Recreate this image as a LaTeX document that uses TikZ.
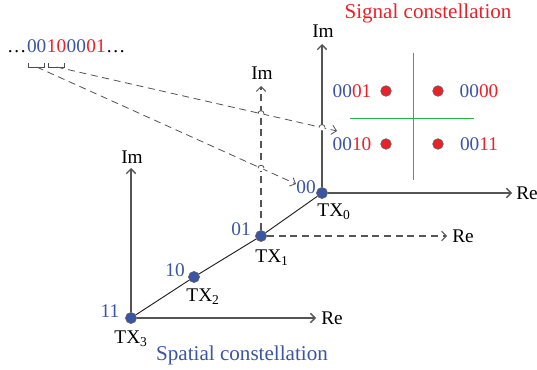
\documentclass[tikz,border=0pt]{standalone}
\usepackage{fontspec}
\setmainfont{Liberation Serif}
\usepackage{xcolor}
\usepackage{tikz}
\usetikzlibrary{arrows.meta,positioning,calc}
\definecolor{ink}{HTML}{231F20}
\definecolor{axis}{HTML}{555555}
\definecolor{bitblue}{HTML}{3A55A4}
\definecolor{bitred}{HTML}{EC2027}
\definecolor{grid}{HTML}{2BB24C}
\newcommand{\bb}[1]{\textcolor{bitblue}{#1}}
\newcommand{\rb}[1]{\textcolor{bitred}{#1}}
\newcommand{\tx}[1]{TX\textsubscript{#1}}

\begin{document}
\begin{tikzpicture}[x=0.03cm,y=-0.03cm,
  font=\fontsize{16.5}{19}\selectfont,
  >={Straight Barb[length=4pt,width=8pt]},
  ax/.style={draw=axis,line width=1.1pt,->},
  dax/.style={ax,dash pattern=on 6pt off 4pt,line width=0.9pt},
  map/.style={draw=axis,dash pattern=on 6pt off 4pt,line width=0.7pt,->},
  ant/.style={circle,fill=bitblue,draw=ink!70,line width=0.5pt,inner sep=0pt,minimum size=9.5pt},
  sym/.style={circle,fill=bitred,draw=ink!70,line width=0.6pt,inner sep=0pt,minimum size=9pt},
  bit/.style={inner sep=0pt,anchor=base west},
  caption/.style={font=\fontsize{18}{20}\selectfont}
]
  \useasboundingbox (0,0) rectangle (537,370);

  % transmit antennas
  \node[ant] (tx0) at (322,193) {};
  \node[ant] (tx1) at (261,236) {};
  \node[ant] (tx2) at (194,277) {};
  \node[ant] (tx3) at (131,318) {};
  \draw[ink,line width=0.8pt] (tx3) -- (tx2) -- (tx1) -- (tx0);

  \node[bitblue] (a0) at (306,187) {00};
  \node[bitblue] (a1) at (241,229) {01};
  \node[bitblue] (a2) at (175,270) {10};
  \node[bitblue] (a3) at (110,311) {11};
  \node (n0) at (334,212) {\tx{0}};
  \node (n1) at (272,258) {\tx{1}};
  \node (n2) at (203,297) {\tx{2}};
  \node (n3) at (131,339) {\tx{3}};

  % axes
  \coordinate (im0) at (322,44);  \coordinate (re0) at (512,193);
  \coordinate (im1) at (261,86);  \coordinate (re1) at (447,236);
  \coordinate (im3) at (131,168); \coordinate (re3) at (316,318);
  \draw[ax] (tx0) -- (im0);
  \draw[ax] (tx0) -- (re0);
  \draw[dax] (tx1) -- (im1);
  \draw[dax] (tx1) -- (re1);
  \draw[ax] (tx3) -- (im3);
  \draw[ax] (tx3) -- (re3);
  \node (lim0) at (323,31)  {Im};
  \node (lre0) at (527,193) {Re};
  \node (lim1) at (262,73)  {Im};
  \node (lre1) at (463,236) {Re};
  \node (lim3) at (132,157) {Im};
  \node (lre3) at (332,318) {Re};

  % signal constellation
  \draw[grid,line width=0.8pt] (413,53) -- (413,180);
  \draw[grid,line width=0.8pt] (350,118) -- (474,118);
  \node[sym] (s01) at (386,91)  {};
  \node[sym] (s00) at (438,91)  {};
  \node[sym] (s10) at (386,144) {};
  \node[sym] (s11) at (438,144) {};
  \node (l01) at (352,91)  {\bb{00}\rb{01}};
  \node (l00) at (479,91)  {\bb{00}\rb{00}};
  \node (l10) at (352,144) {\bb{00}\rb{10}};
  \node (l11) at (479,144) {\bb{00}\rb{11}};

  \node[caption,bitred]  (title) at (428,13)  {Signal constellation};
  \node[caption,bitblue] (sub)   at (242,355) {Spatial constellation};

  % bit stream
  \node[bit] (dl) at (7,53) {\ldots};
  \node[bit,bitblue] (g1) at (dl.base east) {00};
  \node[bit,bitred]  (g2) at (g1.base east) {10};
  \node[bit,bitblue] (g3) at (g2.base east) {00};
  \node[bit,bitred]  (g4) at (g3.base east) {01};
  \node[bit] (dr) at (g4.base east) {\ldots};
  \draw[ink!80,line width=0.8pt] ($(g1.base west)+(2,10)$) -- ++(0,4)
    -- coordinate (b1) ($(g1.base east)+(-2,14)$) -- ++(0,-4);
  \draw[ink!80,line width=0.8pt] ($(g2.base west)+(2,10)$) -- ++(0,4)
    -- coordinate (b2) ($(g2.base east)+(-2,14)$) -- ++(0,-4);

  \coordinate (e1) at (296,184);
  \coordinate (e2) at (337,131);
  \draw[map] (b1) -- (e1);
  \draw[map] (b2) -- (e2);

  % hops
  \foreach \p in {(intersection of b1--e1 and tx1--im1),
                  (intersection of b2--e2 and tx1--im1),
                  (intersection of b2--e2 and tx0--im0)}{
    \fill[white] \p circle (2.8);
    \draw[axis,line width=0.7pt] \p ++(-3,0) arc[start angle=180,end angle=360,radius=3];
  }
\end{tikzpicture}
\end{document}
